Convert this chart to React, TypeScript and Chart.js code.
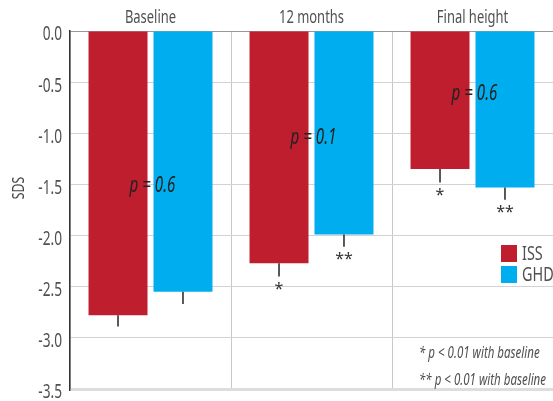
import React, { useEffect, useRef } from 'react';
import { Chart, registerables } from 'chart.js';

Chart.register(...registerables);

const categories = ['Baseline', '12 months', 'Final height'];
const seriesNames = ['ISS', 'GHD'];
const issValues = [-2.78, -2.27, -1.35];
const ghdValues = [-2.55, -1.99, -1.53];
const issErrors = [0.11, 0.13, 0.13];
const ghdErrors = [0.12, 0.12, 0.12];
const issMarks = ['', '*', '*'];
const ghdMarks = ['', '**', '**'];
const pLabels = ['p = 0.6', 'p = 0.1', 'p = 0.6'];
const pLabelY = [-1.52, -1.05, -0.62];
const footnotes = ['* p < 0.01 with baseline', '** p < 0.01 with baseline'];
const yMin = -3.5;
const yMax = 0;
const yStep = 0.5;
const yTitle = 'SDS';

const ISS_COLOR = '#be1e2d';
const GHD_COLOR = '#00aeef';
const FONT = "'Noto Sans', 'Open Sans', sans-serif";
const SQUEEZE = 0.72;

function condensedText(ctx: any, text: string, x: number, y: number, font: string, color: string, align: string, baseline: string = 'middle') {
  ctx.save();
  ctx.font = font;
  ctx.fillStyle = color;
  ctx.textAlign = align;
  ctx.textBaseline = baseline;
  ctx.translate(x, y);
  ctx.scale(SQUEEZE, 1);
  ctx.fillText(text, 0, 0);
  ctx.restore();
}

const overlayPlugin = {
  id: 'overlay',
  afterDatasetsDraw(chart: any) {
    const ctx = chart.ctx;
    const yScale = chart.scales.y;
    const xScale = chart.scales.x;
    const area = chart.chartArea;
    const errs = [issErrors, ghdErrors];
    const marks = [issMarks, ghdMarks];
    ctx.save();
    // axis tick labels
    yScale.ticks.forEach((t: any) => {
      const y = yScale.getPixelForValue(t.value);
      condensedText(ctx, Number(t.value).toFixed(1), area.left - 8, y + 4, `19px ${FONT}`, '#505050', 'right');
    });
    categories.forEach((c, j) => {
      condensedText(ctx, c, xScale.getPixelForValue(j), 18, `18px ${FONT}`, '#505050', 'center');
    });
    // error bars + significance marks
    chart.data.datasets.forEach((ds: any, i: number) => {
      const meta = chart.getDatasetMeta(i);
      meta.data.forEach((el: any, j: number) => {
        const v = ds.data[j];
        const yEnd = yScale.getPixelForValue(v - errs[i][j]);
        ctx.strokeStyle = '#222';
        ctx.lineWidth = 1.5;
        ctx.beginPath();
        ctx.moveTo(el.x, el.y);
        ctx.lineTo(el.x, yEnd);
        ctx.stroke();
        if (marks[i][j]) {
          ctx.fillStyle = '#333';
          ctx.font = `16px ${FONT}`;
          ctx.textAlign = 'center';
          ctx.textBaseline = 'top';
          ctx.fillText(marks[i][j], el.x, yEnd + 5);
        }
      });
    });
    // p labels
    pLabels.forEach((t, j) => {
      condensedText(ctx, t, xScale.getPixelForValue(j) + 2, yScale.getPixelForValue(pLabelY[j]), `italic 21px ${FONT}`, '#222', 'center');
    });
    // legend
    const colors = [ISS_COLOR, GHD_COLOR];
    seriesNames.forEach((n, i) => {
      const bx = area.right - 52;
      const by = area.top + 214 + i * 21;
      ctx.fillStyle = colors[i];
      ctx.fillRect(bx, by, 16, 17);
      condensedText(ctx, n, bx + 21, by + 9, `20px ${FONT}`, '#505050', 'left');
    });
    // footnotes
    footnotes.forEach((t, i) => {
      condensedText(ctx, t, area.right - 134, area.top + 322 + i * 27, `italic 16px ${FONT}`, '#505050', 'left');
    });
    // y title
    ctx.translate(19, area.top + 157);
    ctx.rotate(-Math.PI / 2);
    condensedText(ctx, yTitle, 0, 0, `17px ${FONT}`, '#444', 'center');
    ctx.restore();
  },
};

export default function App() {
  const ref = useRef<HTMLCanvasElement>(null);
  useEffect(() => {
    document.body.style.margin = '0';
    const chart = new Chart(ref.current!, {
      type: 'bar',
      data: {
        labels: categories,
        datasets: [
          { label: seriesNames[0], data: issValues, backgroundColor: ISS_COLOR, categoryPercentage: 0.807, barPercentage: 0.908 },
          { label: seriesNames[1], data: ghdValues, backgroundColor: GHD_COLOR, categoryPercentage: 0.807, barPercentage: 0.908 },
        ],
      },
      options: {
        responsive: false,
        animation: false,
        layout: { padding: { left: 0, right: 0, top: 0, bottom: 12 } },
        plugins: { legend: { display: false }, tooltip: { enabled: false } },
        scales: {
          x: {
            position: 'top',
            afterFit(scale: any) { scale.height = 31; },
            grid: { color: '#c8c8c8', drawTicks: false, offset: true },
            border: { color: '#999', width: 1 },
            ticks: { display: false },
          },
          y: {
            min: yMin,
            max: yMax,
            afterFit(scale: any) { scale.width = 70; },
            grid: {
              drawTicks: false,
              color: (c: any) => (c.tick && c.tick.value === yMin ? '#dddddd' : '#d2d2d2'),
              lineWidth: (c: any) => (c.tick && c.tick.value === yMin ? 3 : 1),
            },
            border: { color: '#333', width: 1.5 },
            ticks: { display: false, stepSize: yStep },
          },
        },
      },
      plugins: [overlayPlugin],
    } as any);
    return () => chart.destroy();
  }, []);
  return (
    <div style={{ width: 553, height: 401 }}>
      <canvas ref={ref} width={553} height={401} />
    </div>
  );
}
